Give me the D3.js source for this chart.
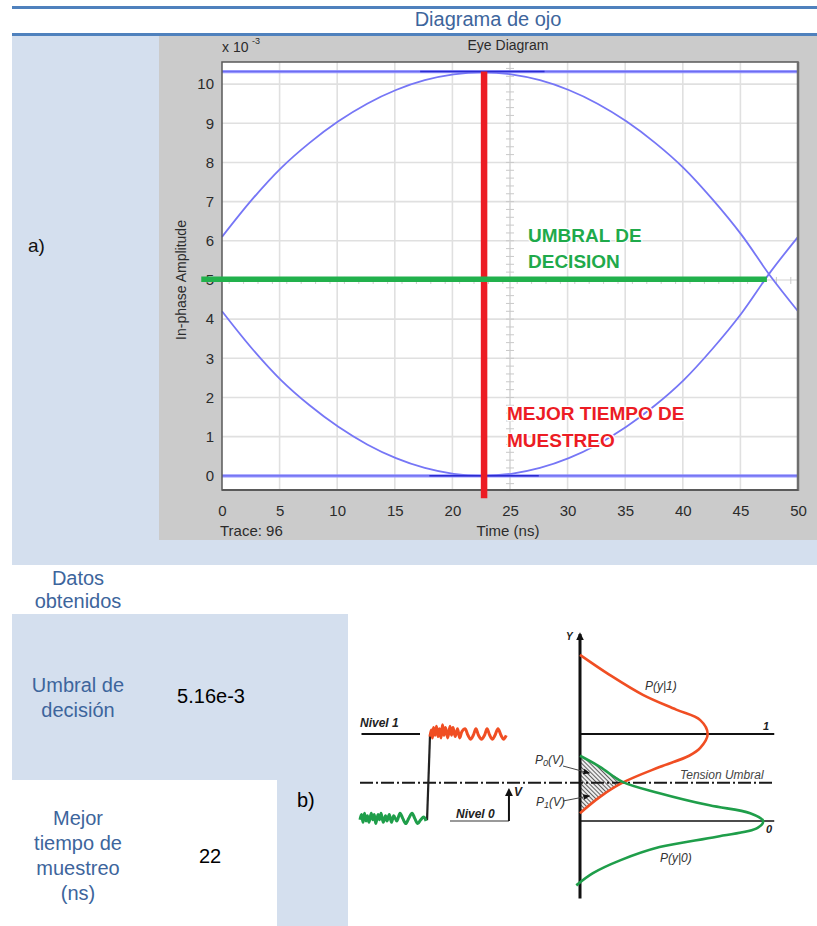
<!DOCTYPE html>
<html><head><meta charset="utf-8">
<script src="https://cdn.jsdelivr.net/npm/d3@7/dist/d3.min.js"></script>
<style>body{margin:0;background:#fff}svg{display:block}</style>
</head><body>
<svg id="c" width="817" height="926"></svg>
<script>
// ---------- DATA ----------
// a) Eye diagram (amplitude in units of 1e-3, time in ns)
const xTicks = [0,5,10,15,20,25,30,35,40,45,50];
const yTicks = [0,1,2,3,4,5,6,7,8,9,10];
const eyeTime  = [0,2.6,5.1,7.6,10.1,12.6,15.1,17.6,20.1,22.6,25.1,27.6,30.1,32.6,35.1,37.6,40.1,42.6,45.1,47.6,50];
const eyeUpper = [6.1,7.05,7.85,8.5,9.05,9.5,9.85,10.1,10.25,10.3,10.25,10.1,9.85,9.5,9.05,8.5,7.85,7.05,6.15,5.1,4.2];
const eyeLower = [4.2,3.25,2.45,1.8,1.25,0.8,0.45,0.2,0.05,0.0,0.05,0.2,0.45,0.8,1.25,1.8,2.45,3.25,4.15,5.2,6.1];
const flatLevels = [10.32, 0.0];
const darkSegHigh = [17.2, 28];
const darkSegLow  = [18, 27.5];
const decisionThreshold = 5.02;      // green line value
const thresholdSpan = [-1.8, 47.3];  // time span of the green line
const bestSampleTime = 22.75;        // red line time
const bestSampleSpan = [-0.57, 10.32];

// Table values
const tableLabels = [["Umbral de","decisión"],["Mejor","tiempo de","muestreo","(ns)"]];
const tableValues = ["5.16e-3","22"];

// b) Decision threshold diagram (voltage levels, densities, time)
const redNoiseT = [46.7,47.5,48.3,49,50,51,52,53,54,55,56,57,58.5,60,61,62,63.5,65,66.5,68,70,72,73.7,75.5,77.3,79,81,83,84.7,86.5,88.3,90,92,94,95.7,97.5];
const redNoiseV = [0.97,1.045,0.955,1.075,0.985,1.09,0.97,1.06,0.955,1.105,0.985,1.075,0.955,1.09,0.985,1.075,0.97,1.06,0.955,1.03,1.06,0.985,0.94,0.985,1.06,0.985,0.94,0.985,1.06,0.985,0.94,0.985,1.06,0.985,0.94,0.985];
const greenNoiseT = [0,1,2,3,4,5,6,7.5,8.5,9.5,10.5,12,13,14,15.5,17,18,19.5,21,22.5,24.5,26.7,28.5,30.5,32.5,34.7,36.5,38.5,40.5,42.5,44];
const greenNoiseV = [0.015,0.075,-0.015,0.09,0.0,0.06,-0.015,0.09,0.015,0.075,-0.03,0.075,0.015,0.09,-0.015,0.06,0.0,0.075,-0.015,0.06,0.0,0.09,0.03,-0.03,0.03,0.09,0.03,-0.03,0.015,0.045,0.0];
const stepT = [44.7, 46.7];
const stepV = [0.01, 1.0];
const redDensV = [1.91,1.68,1.45,1.28,1.16,1.0,0.84,0.75,0.62,0.44,0.28,0.09];
const redDensP = [0,0.16,0.34,0.52,0.65,0.69,0.65,0.59,0.43,0.23,0.11,0];
const greenDensV = [0.75,0.62,0.45,0.32,0.18,0.09,0,-0.08,-0.18,-0.30,-0.45,-0.60,-0.74];
const greenDensP = [0,0.11,0.23,0.43,0.70,0.92,0.99,0.96,0.74,0.43,0.22,0.07,-0.02];
const bThreshold = 0.44;

// ---------- DRAW ----------
const F = "'Liberation Sans', Arial, Helvetica, sans-serif";
const svg = d3.select("#c");
const BLUE_FILL = "#D4DFEE", HEAD = "#4F81BD", TXT_BLUE = "#3D659C";

// header bars and title
svg.append("rect").attr("x",12).attr("y",6).attr("width",805).attr("height",3).attr("fill",HEAD);
svg.append("rect").attr("x",12).attr("y",33).attr("width",805).attr("height",3).attr("fill",HEAD);
svg.append("text").attr("x",488).attr("y",26).attr("text-anchor","middle")
  .attr("font-family",F).attr("font-size",20).attr("fill",TXT_BLUE).text("Diagrama de ojo");

// light-blue background blocks
svg.append("rect").attr("x",12).attr("y",36).attr("width",805).attr("height",529).attr("fill",BLUE_FILL);
svg.append("rect").attr("x",12).attr("y",614).attr("width",336).attr("height",166).attr("fill",BLUE_FILL);
svg.append("rect").attr("x",277).attr("y",780).attr("width",71).attr("height",146).attr("fill",BLUE_FILL);

svg.append("text").attr("x",28).attr("y",252).attr("font-family",F).attr("font-size",19).attr("fill","#111").text("a)");

// gray matlab panel
svg.append("rect").attr("x",159).attr("y",36).attr("width",658).attr("height",504).attr("fill","#CBCBCB");

const ex = d3.scaleLinear().domain([0,50]).range([222,798]);
const ey = d3.scaleLinear().domain([0,10]).range([475.8,84.1]);
const P = {l:222, r:798, t:62, b:490};

const gp = svg.append("g");
gp.append("rect").attr("x",P.l).attr("y",P.t).attr("width",P.r-P.l).attr("height",P.b-P.t).attr("fill","#fff");
// grid
gp.selectAll(".gx").data(xTicks.slice(1,-1)).join("line")
  .attr("x1",d=>ex(d)).attr("x2",d=>ex(d)).attr("y1",P.t).attr("y2",P.b)
  .attr("stroke","#e0e0e0").attr("stroke-width",1.6);
gp.selectAll(".gy").data(yTicks).join("line")
  .attr("x1",P.l).attr("x2",P.r).attr("y1",d=>ey(d)).attr("y2",d=>ey(d))
  .attr("stroke","#e0e0e0").attr("stroke-width",1.6);
// center crosshair with minor ticks
gp.append("line").attr("x1",ex(25)).attr("x2",ex(25)).attr("y1",P.t).attr("y2",P.b).attr("stroke","#d8d8d8").attr("stroke-width",1);
gp.selectAll(".mt").data(d3.range(-0.4,10.6,0.2)).join("line")
  .attr("x1",ex(25)-4).attr("x2",ex(25)+4).attr("y1",d=>ey(d)).attr("y2",d=>ey(d))
  .attr("stroke","#c9c9c9").attr("stroke-width",1);
gp.selectAll(".mh").data(d3.range(0.625,50,1.25)).join("line")
  .attr("x1",d=>ex(d)).attr("x2",d=>ex(d)).attr("y1",ey(5)-3).attr("y2",ey(5)+4)
  .attr("stroke","#c9c9c9").attr("stroke-width",1);

// traces
const line = d3.line().x(d=>ex(d[0])).y(d=>ey(d[1])).curve(d3.curveCatmullRom);
gp.selectAll(".flat").data(flatLevels).join("line")
  .attr("x1",P.l).attr("x2",P.r).attr("y1",d=>ey(d)).attr("y2",d=>ey(d))
  .attr("stroke","#8c8cff").attr("stroke-width",3.2).attr("opacity",0.9);
gp.selectAll(".flat2").data(flatLevels).join("line")
  .attr("x1",P.l).attr("x2",P.r).attr("y1",d=>ey(d)).attr("y2",d=>ey(d))
  .attr("stroke","#6a6af0").attr("stroke-width",1);
[eyeUpper, eyeLower].forEach(vals=>{
  gp.append("path").attr("d", line(eyeTime.map((t,i)=>[t, vals[i]])))
    .attr("fill","none").attr("stroke","#7676f6").attr("stroke-width",1.8);
});
[[darkSegHigh, flatLevels[0]],[darkSegLow, flatLevels[1]]].forEach(([s,v])=>{
  gp.append("line").attr("x1",ex(s[0])).attr("x2",ex(s[1])).attr("y1",ey(v)).attr("y2",ey(v))
    .attr("stroke","#2b2bd0").attr("stroke-width",1.6);
});

// frame
gp.append("rect").attr("x",P.l).attr("y",P.t).attr("width",P.r-P.l).attr("height",P.b-P.t)
  .attr("fill","none").attr("stroke","#5a5a5a").attr("stroke-width",1.5);
gp.append("line").attr("x1",P.r).attr("x2",P.r).attr("y1",P.t).attr("y2",P.b+1).attr("stroke","#6e6e6e").attr("stroke-width",2.5);
gp.append("line").attr("x1",P.l).attr("x2",P.r).attr("y1",P.b).attr("y2",P.b).attr("stroke","#5a5a5a").attr("stroke-width",2);

// axes
const axL = svg.append("g").attr("transform",`translate(${P.l},0)`)
  .call(d3.axisLeft(ey).tickValues(yTicks).tickSize(0).tickPadding(8));
const axB = svg.append("g").attr("transform",`translate(0,${P.b})`)
  .call(d3.axisBottom(ex).tickValues(xTicks).tickSize(0).tickPadding(15));
[axL,axB].forEach(a=>{a.select(".domain").remove();
  a.selectAll("text").attr("font-family",F).attr("font-size",15).attr("fill","#2b2b2b");});

const tx = (x,y,s,size,opts={})=>{
  const t = svg.append("text").attr("x",x).attr("y",y).attr("font-family",F).attr("font-size",size).attr("fill",opts.fill||"#2b2b2b");
  if(opts.anchor) t.attr("text-anchor",opts.anchor);
  if(opts.weight) t.attr("font-weight",opts.weight);
  if(opts.style) t.attr("font-style",opts.style);
  t.text(s); return t;
};
tx(222,52,"x 10",14);
tx(252,44,"-3",9);
tx(508,50,"Eye Diagram",14,{anchor:"middle"});
tx(220,536,"Trace: 96",15);
tx(508,536,"Time (ns)",15,{anchor:"middle"});
svg.append("text").attr("transform","translate(186,280) rotate(-90)").attr("text-anchor","middle")
  .attr("font-family",F).attr("font-size",14).attr("fill","#2b2b2b").text("In-phase Amplitude");

// red best sampling line, green threshold line
svg.append("line").attr("x1",ex(bestSampleTime)).attr("x2",ex(bestSampleTime))
  .attr("y1",ey(bestSampleSpan[1])).attr("y2",ey(bestSampleSpan[0]))
  .attr("stroke","#EC1C24").attr("stroke-width",6.5);
svg.append("line").attr("x1",ex(thresholdSpan[0])).attr("x2",ex(thresholdSpan[1]))
  .attr("y1",ey(decisionThreshold)).attr("y2",ey(decisionThreshold))
  .attr("stroke","#22B14C").attr("stroke-width",5.5);

// annotations
const ann = (x,y,s,c)=>svg.append("text").attr("x",x).attr("y",y).attr("font-family",F)
  .attr("font-size",19).attr("font-weight","bold").attr("fill",c)
  .attr("stroke","#fff").attr("stroke-width",2.5).attr("paint-order","stroke").text(s);
ann(528,242,"UMBRAL DE","#1FAA4B");
ann(528,268,"DECISION","#1FAA4B");
ann(507,420,"MEJOR TIEMPO DE","#EC1C24");
ann(507,447,"MUESTREO","#EC1C24");

// ---------- table ----------
tx(78,585,"Datos",20,{anchor:"middle",fill:TXT_BLUE});
tx(78,608,"obtenidos",20,{anchor:"middle",fill:TXT_BLUE});
tableLabels[0].forEach((s,i)=>tx(78,692+i*25,s,20,{anchor:"middle",fill:TXT_BLUE}));
tableLabels[1].forEach((s,i)=>tx(78,825+i*25,s,20,{anchor:"middle",fill:TXT_BLUE}));
tx(211,703,tableValues[0],20,{anchor:"middle",fill:"#000"});
tx(210,863,tableValues[1],20,{anchor:"middle",fill:"#000"});
tx(297,807,"b)",20,{fill:"#000"});

// ---------- b) diagram ----------
const bV = d3.scaleLinear().domain([0,1]).range([821,734]);
const bP = d3.scaleLinear().domain([0,1]).range([580,765]);
const bT = d3.scaleLinear().domain([0,100]).range([360,510]);
const gb = svg.append("g");
const defs = svg.append("defs");
const pat = defs.append("pattern").attr("id","hatch").attr("width",3).attr("height",3)
  .attr("patternUnits","userSpaceOnUse").attr("patternTransform","rotate(-45)");
pat.append("rect").attr("width",3).attr("height",3).attr("fill","#eeeeee");
pat.append("line").attr("x1",0).attr("x2",0).attr("y1",0).attr("y2",3).attr("stroke","#222").attr("stroke-width",1.4);
const mk = defs.append("marker").attr("id","ah").attr("viewBox","0 0 10 10").attr("refX",8).attr("refY",5)
  .attr("markerUnits","userSpaceOnUse").attr("markerWidth",8).attr("markerHeight",8).attr("orient","auto");
mk.append("path").attr("d","M0,0 L10,5 L0,10 Z").attr("fill","#111");
const mk2 = defs.append("marker").attr("id","ah2").attr("viewBox","0 0 10 10").attr("refX",8).attr("refY",5)
  .attr("markerUnits","userSpaceOnUse").attr("markerWidth",7).attr("markerHeight",7).attr("orient","auto");
mk2.append("path").attr("d","M0,1 L10,5 L0,9 Z").attr("fill","#111");

const tLine = d3.line().x(d=>bT(d[0])).y(d=>bV(d[1])).curve(d3.curveCatmullRom);
const dLine = d3.line().x(d=>bP(d[0])).y(d=>bV(d[1])).curve(d3.curveCatmullRom);
const bf = "'Liberation Sans', Arial, sans-serif";
const bt = (x,y,s,size,opt={})=>{
  const t = gb.append("text").attr("x",x).attr("y",y).attr("font-family",bf).attr("font-size",size)
   .attr("font-style","italic").attr("font-weight",opt.weight||"normal").attr("fill",opt.fill||"#333");
  t.text(s); return t;
};

// hatched area between curves near the axis
const gUp = greenDensP.map((p,i)=>[p,greenDensV[i]]).filter(d=>d[1]>=bThreshold);
const rLo = redDensP.map((p,i)=>[p,redDensV[i]]).filter(d=>d[1]<=bThreshold);
gb.append("path").attr("d", dLine(gUp.concat(rLo))+"Z").attr("fill","url(#hatch)").attr("stroke","none");

// level lines
gb.append("line").attr("x1",bT(1)).attr("x2",bT(40)).attr("y1",bV(1)).attr("y2",bV(1)).attr("stroke","#111").attr("stroke-width",2.2);
gb.append("line").attr("x1",bT(60)).attr("x2",bT(99.3)).attr("y1",bV(0)).attr("y2",bV(0)).attr("stroke","#999").attr("stroke-width",2);
gb.append("line").attr("x1",bP(0)).attr("x2",bP(1.05)).attr("y1",bV(1)).attr("y2",bV(1)).attr("stroke","#111").attr("stroke-width",2.2);
gb.append("line").attr("x1",bP(0)).attr("x2",bP(1.05)).attr("y1",bV(0)).attr("y2",bV(0)).attr("stroke","#111").attr("stroke-width",1.4);
// threshold dash-dot
gb.append("line").attr("x1",bT(0)).attr("x2",bP(1.05)).attr("y1",bV(bThreshold)).attr("y2",bV(bThreshold))
  .attr("stroke","#1a1a1a").attr("stroke-width",2).attr("stroke-dasharray","13,3,2,3");
// step + noise
gb.append("path").attr("d",d3.line().x(d=>bT(d[0])).y(d=>bV(d[1]))(stepT.map((t,i)=>[t,stepV[i]])))
  .attr("stroke","#222").attr("stroke-width",2.2).attr("fill","none");
gb.append("path").attr("d",tLine(redNoiseT.map((t,i)=>[t,redNoiseV[i]]))).attr("fill","none")
  .attr("stroke","#F04E23").attr("stroke-width",3).attr("stroke-linejoin","round");
gb.append("path").attr("d",tLine(greenNoiseT.map((t,i)=>[t,greenNoiseV[i]]))).attr("fill","none")
  .attr("stroke","#1F9E4A").attr("stroke-width",3).attr("stroke-linejoin","round");
// V arrow
gb.append("line").attr("x1",bT(99.3)).attr("x2",bT(99.3)).attr("y1",bV(0)).attr("y2",bV(0.36))
  .attr("stroke","#111").attr("stroke-width",2).attr("marker-end","url(#ah)");
// Y axis
gb.append("line").attr("x1",bP(0)).attr("x2",bP(0)).attr("y1",bV(-0.89)).attr("y2",bV(2.15))
  .attr("stroke","#111").attr("stroke-width",3).attr("marker-end","url(#ah)");
// density curves
gb.append("path").attr("d",dLine(redDensP.map((p,i)=>[p,redDensV[i]]))).attr("fill","none")
  .attr("stroke","#F04E23").attr("stroke-width",2.6);
gb.append("path").attr("d",dLine(greenDensP.map((p,i)=>[p,greenDensV[i]]))).attr("fill","none")
  .attr("stroke","#1F9E4A").attr("stroke-width",2.6);
// leaders
gb.append("line").attr("x1",563).attr("x2",589).attr("y1",766).attr("y2",773).attr("stroke","#444").attr("stroke-width",1).attr("marker-end","url(#ah2)");
gb.append("line").attr("x1",563).attr("x2",589).attr("y1",801).attr("y2",796).attr("stroke","#444").attr("stroke-width",1).attr("marker-end","url(#ah2)");

// labels
bt(360,727,"Nivel 1",12,{weight:"bold",fill:"#222"});
bt(456,818,"Nivel 0",12,{weight:"bold",fill:"#222"});
bt(514,796,"V",12,{weight:"bold",fill:"#222"});
bt(566,640,"Y",10,{weight:"bold",fill:"#222"});
bt(763,730,"1",11,{weight:"bold",fill:"#222"});
bt(766,833,"0",11,{weight:"bold",fill:"#222"});
bt(680,779,"Tension Umbral",12,{fill:"#444"});
bt(645,690,"P(y|1)",12);
bt(660,862,"P(y|0)",12);
const p0 = bt(535,764,"P",12); p0.append("tspan").attr("font-size",9).attr("dy",2).text("0"); p0.append("tspan").attr("dy",-2).text("(V)");
const p1 = bt(536,806,"P",12); p1.append("tspan").attr("font-size",9).attr("dy",2).text("1"); p1.append("tspan").attr("dy",-2).text("(V)");
</script>
</body></html>
